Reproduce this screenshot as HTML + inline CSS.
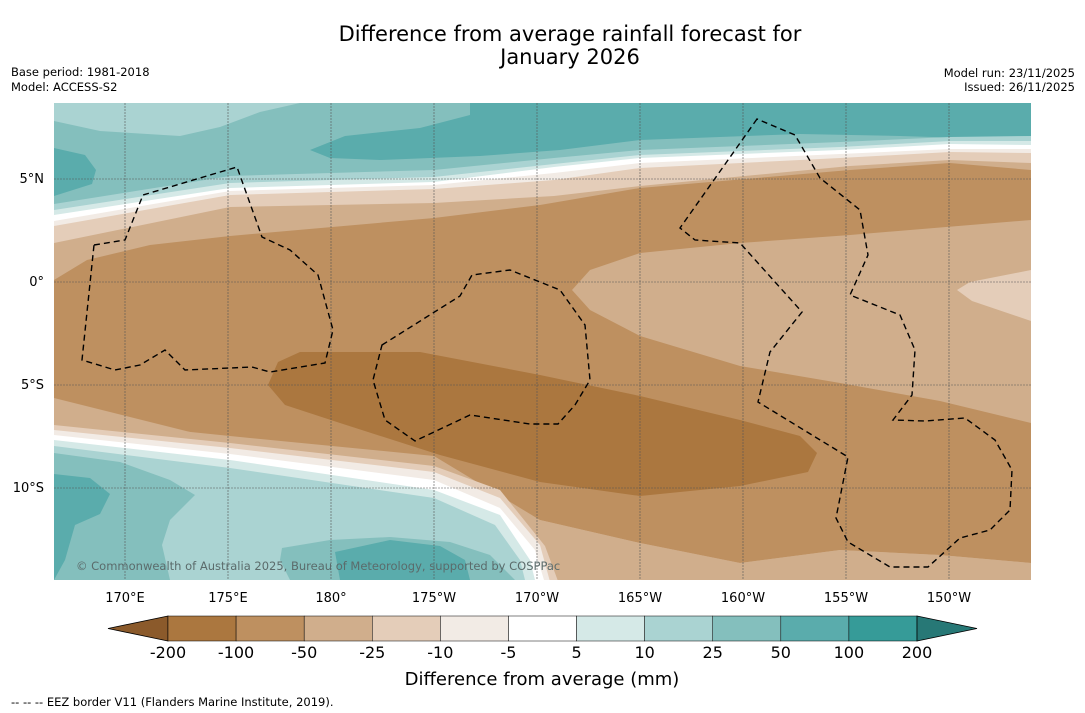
<!DOCTYPE html>
<html><head><meta charset="utf-8"><style>
body{margin:0;background:#fff;width:1085px;height:713px;overflow:hidden;font-family:"Liberation Sans","DejaVu Sans",sans-serif}
svg{position:absolute;left:0;top:0}
</style></head><body>
<svg width="1085" height="713" font-family="DejaVu Sans, Liberation Sans, sans-serif">
<defs><clipPath id="mc"><rect x="54" y="103" width="977" height="477"/></clipPath></defs>
<text x="570" y="41" text-anchor="middle" font-size="21">Difference from average rainfall forecast for</text>
<text x="570" y="64" text-anchor="middle" font-size="21">January 2026</text>
<text x="11" y="76" font-size="11.5">Base period: 1981-2018</text>
<text x="11" y="91" font-size="11.5">Model: ACCESS-S2</text>
<text x="1075" y="77" font-size="11.5" text-anchor="end">Model run: 23/11/2025</text>
<text x="1075" y="91" font-size="11.5" text-anchor="end">Issued: 26/11/2025</text>
<g clip-path="url(#mc)">
<rect x="54" y="103" width="977" height="477" fill="#84bfbd"/>
<path fill="#aad3d2" d="M54,103 L300,103 L260,112 L220,127 L180,136 L100,131 L54,121 Z"/>
<path fill="#5aacac" d="M310,150 L345,136 L420,128 L470,115 L470,103 L1031,103 L1031,140 L900,136 L800,134 L640,140 L560,150 L480,156 L380,160 L330,158 Z"/>
<path fill="#5aacac" d="M54,148 L85,155 L96,170 L92,184 L54,196 Z"/>
<path fill="#aad3d2" d="M54,204 L230,176 L434,170 L554,158 L640,150 L840,142 L950,137 L1031,136 L1031,700 L54,700 Z"/>
<path fill="#d5e9e7" d="M54,210 L230,183 L434,177 L554,164 L640,155 L840,147 L950,141 L1031,141 L1031,700 L54,700 Z"/>
<path fill="#ffffff" d="M54,215 L230,188 L434,182 L554,167 L640,158 L840,150 L950,144 L1031,145 L1031,700 L54,700 Z"/>
<path fill="#f2ebe5" d="M54,221 L230,191 L434,185 L554,173 L640,163 L840,154 L950,149 L1031,149 L1031,700 L54,700 Z"/>
<path fill="#e4cdb9" d="M54,226 L230,195 L434,189 L554,180 L640,168 L840,158 L950,152 L1031,153 L1031,700 L54,700 Z"/>
<path fill="#d0ae8c" d="M54,243 L230,207 L434,203 L554,196 L640,186 L850,166 L950,160 L1031,163 L1031,700 L54,700 Z"/>
<path fill="#be9060" d="M54,280 L87,260 L150,245 L230,236 L434,218 L540,205 L640,188 L850,170 L950,163 L1031,170 L1031,563 L940,555 L840,550 L740,563 L640,543 L540,520 L434,490 L230,442 L54,398 Z"/>
<path fill="#d0ae8c" d="M54,418 L230,436 L434,456 L540,520 L640,543 L740,563 L840,550 L940,555 L1031,563 L1031,600 L54,600 Z"/>
<path fill="#e4cdb9" d="M54,425 L230,443 L434,466 L500,490 L545,546 L565,600 L54,600 Z"/>
<path fill="#f2ebe5" d="M54,430 L230,448 L434,472 L500,498 L540,545 L555,600 L54,600 Z"/>
<path fill="#ffffff" d="M54,435 L230,454 L434,480 L500,508 L535,550 L550,600 L54,600 Z"/>
<path fill="#d5e9e7" d="M54,440 L230,460 L434,490 L500,515 L530,560 L540,600 L54,600 Z"/>
<path fill="#aad3d2" d="M54,446 L230,468 L434,498 L495,525 L520,560 L530,600 L54,600 Z"/>
<path fill="#84bfbd" d="M54,453 L120,462 L170,480 L195,495 L170,520 L162,545 L170,580 L54,580 Z"/>
<path fill="#84bfbd" d="M282,548 L330,540 L390,537 L450,542 L490,555 L515,580 L290,580 L280,560 Z"/>
<path fill="#5aacac" d="M335,552 L390,540 L440,546 L465,560 L470,580 L340,580 Z"/>
<path fill="#5aacac" d="M54,474 L90,478 L110,494 L100,514 L75,525 L65,560 L54,580 Z"/>
<path fill="#d0ae8c" d="M1031,220 L850,235 L740,243 L640,253 L590,270 L572,290 L590,310 L640,336 L740,366 L840,383 L940,401 L1031,423 Z"/>
<path fill="#e4cdb9" d="M1031,270 L970,282 L957,290 L972,301 L1031,321 Z"/>
<path fill="#ab773f" d="M300,352 L420,352 L540,375 L640,396 L740,420 L800,436 L817,453 L808,472 L740,486 L640,496 L540,482 L440,455 L340,423 L285,405 L268,385 L278,362 Z"/>
</g>
<g stroke="#555" stroke-width="0.6" stroke-dasharray="2,1">
<line x1="125" y1="103" x2="125" y2="580"/><line x1="228" y1="103" x2="228" y2="580"/><line x1="331" y1="103" x2="331" y2="580"/><line x1="434" y1="103" x2="434" y2="580"/><line x1="537" y1="103" x2="537" y2="580"/><line x1="640" y1="103" x2="640" y2="580"/><line x1="743" y1="103" x2="743" y2="580"/><line x1="846" y1="103" x2="846" y2="580"/><line x1="949" y1="103" x2="949" y2="580"/>
<line x1="54" y1="179" x2="1031" y2="179"/><line x1="54" y1="282" x2="1031" y2="282"/><line x1="54" y1="385" x2="1031" y2="385"/><line x1="54" y1="488" x2="1031" y2="488"/>
</g>
<g fill="none" stroke="#000" stroke-width="1.4" stroke-dasharray="6,4">
<path d="M94,245 L125,240 L143,195 L237,167 L262,237 L290,250 L318,275 L333,330 L325,363 L270,372 L252,367 L185,370 L165,350 L140,365 L115,370 L82,360 Z"/>
<path d="M382,345 L460,296 L472,275 L510,270 L560,290 L585,325 L590,380 L575,405 L558,424 L530,424 L470,415 L415,441 L385,420 L373,380 Z"/>
<path d="M757,119 L680,228 L695,240 L740,243 L802,312 L770,352 L758,402 L848,457 L836,518 L848,542 L890,567 L928,567 L960,538 L990,530 L1010,510 L1012,470 L995,440 L965,418 L925,421 L893,420 L912,395 L915,350 L900,315 L850,295 L868,255 L860,210 L820,178 L795,135 Z"/>
</g>
<text x="76" y="570" font-size="11.5" fill="#5b6b6b">© Commonwealth of Australia 2025, Bureau of Meteorology, supported by COSPPac</text>
<g font-size="13" text-anchor="middle">
<text x="125" y="602">170°E</text><text x="228" y="602">175°E</text><text x="331" y="602">180°</text><text x="434" y="602">175°W</text><text x="537" y="602">170°W</text><text x="640" y="602">165°W</text><text x="743" y="602">160°W</text><text x="846" y="602">155°W</text><text x="949" y="602">150°W</text>
</g>
<g font-size="13" text-anchor="end">
<text x="44" y="183">5°N</text><text x="44" y="286">0°</text><text x="44" y="389">5°S</text><text x="44" y="492">10°S</text>
</g>
<g id="cbar"></g>
<text x="542" y="685" text-anchor="middle" font-size="18">Difference from average (mm)</text>
<text x="11" y="706" font-size="11.5">--  --  -- EEZ border V11 (Flanders Marine Institute, 2019).</text>
</svg>
<script>
const levels = ["-200","-100","-50","-25","-10","-5","5","10","25","50","100","200"];
const binColors = ["#ab773f","#be9060","#d0ae8c","#e4cdb9","#f2ebe5","#ffffff","#d5e9e7","#aad3d2","#84bfbd","#5aacac","#369b98"];
const ns="http://www.w3.org/2000/svg";
const g=document.getElementById('cbar');
const x0=168,x1=917,y0=616,y1=641,w=(x1-x0)/binColors.length;
function add(tag,attrs){const e=document.createElementNS(ns,tag);for(const k in attrs)e.setAttribute(k,attrs[k]);g.appendChild(e);return e;}
let l=add('polygon',{points:`${x0},${y0} 108,${(y0+y1)/2} ${x0},${y1}`,fill:'#8b5a2b',stroke:'#000','stroke-width':0.8});


binColors.forEach((c,i)=>{
  const r=add('rect',{x:x0+i*w,y:y0,width:w,height:y1-y0,fill:c,stroke:'#000','stroke-width':0.5});
  
  
});
let h=add('polygon',{points:`${x1},${y0} 977,${(y0+y1)/2} ${x1},${y1}`,fill:'#277876',stroke:'#000','stroke-width':0.8});


levels.forEach((t,i)=>{
  const tx=add('text',{x:x0+i*w,y:658,'font-size':16,'text-anchor':'middle'});
  tx.textContent=t;
  
  
});
</script>
</body></html>
